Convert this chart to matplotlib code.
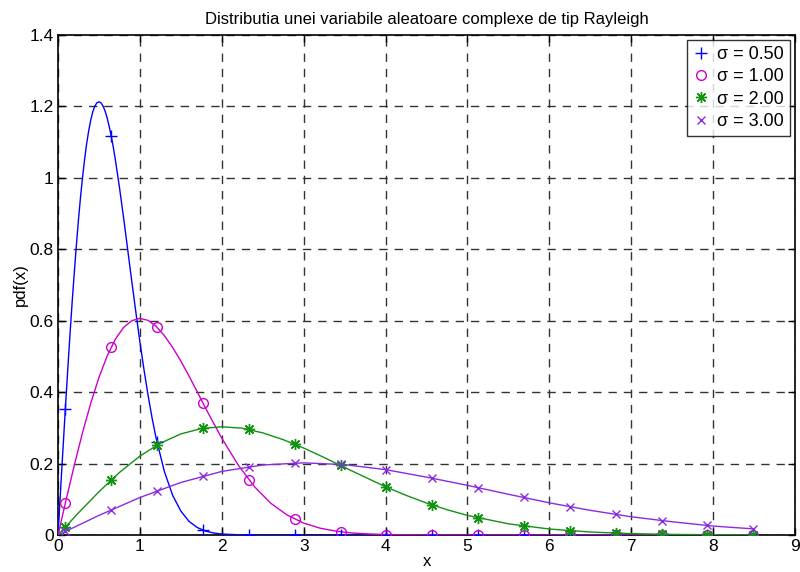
import numpy as np
import matplotlib
matplotlib.use('Agg')
import matplotlib.pyplot as plt

plt.rcParams['font.family'] = ['Liberation Sans', 'DejaVu Sans']

# marker positions (shared by all series)
mark_x = [0.09, 0.65, 1.21, 1.77, 2.33, 2.89, 3.45, 4.01, 4.57, 5.13, 5.69, 6.25, 6.81, 7.37, 7.93, 8.49]

# sigma = 0.50
line_x_05 = [0, 0.025, 0.05, 0.075, 0.1, 0.125, 0.15, 0.175, 0.2, 0.225, 0.25, 0.275, 0.3, 0.325,
             0.35, 0.375, 0.4, 0.425, 0.45, 0.475, 0.5, 0.525, 0.55, 0.575, 0.6, 0.625, 0.65, 0.675,
             0.7, 0.75, 0.8, 0.85, 0.9, 0.95, 1.0, 1.05, 1.1, 1.15, 1.2, 1.3, 1.4, 1.5, 1.6, 1.7,
             1.8, 1.9, 2.0, 2.2, 2.5, 3.0, 8.5]
line_y_05 = [0, 0.100, 0.199, 0.296, 0.392, 0.485, 0.574, 0.659, 0.738, 0.813, 0.883, 0.946,
             1.002, 1.052, 1.096, 1.132, 1.162, 1.185, 1.201, 1.210, 1.213, 1.210, 1.201, 1.187,
             1.168, 1.144, 1.117, 1.086, 1.051, 0.974, 0.890, 0.801, 0.712, 0.625, 0.541, 0.463,
             0.391, 0.326, 0.269, 0.177, 0.111, 0.067, 0.038, 0.021, 0.011, 0.0056, 0.0027,
             0.0006, 0, 0, 0]
mark_y_05 = [0.354, 1.117, 0.259, 0.013, 0, 0, 0, 0, 0, 0, 0, 0, 0, 0, 0, 0]

# sigma = 1.00
line_x_10 = [0, 0.1, 0.2, 0.3, 0.4, 0.5, 0.6, 0.7, 0.8, 0.9, 1.0, 1.1, 1.2, 1.3, 1.4, 1.5, 1.6, 1.7,
             1.8, 1.9, 2.0, 2.2, 2.4, 2.6, 2.8, 3.0, 3.2, 3.4, 3.6, 3.8, 4.0, 4.5, 5.0, 8.5]
line_y_10 = [0, 0.0995, 0.196, 0.287, 0.369, 0.441, 0.501, 0.548, 0.581, 0.600, 0.6065, 0.601, 0.584,
             0.558, 0.525, 0.487, 0.445, 0.401, 0.356, 0.313, 0.271, 0.196, 0.135, 0.0885, 0.0556,
             0.0333, 0.0191, 0.0105, 0.0055, 0.0028, 0.0013, 0.0002, 0, 0]
mark_y_10 = [0.090, 0.526, 0.582, 0.370, 0.155, 0.044, 0.009, 0.001, 0, 0, 0, 0, 0, 0, 0, 0]

# sigma = 2.00
line_x_20 = [0, 0.25, 0.5, 0.75, 1.0, 1.25, 1.5, 1.75, 2.0, 2.25, 2.5, 2.75, 3.0, 3.25, 3.5, 3.75,
             4.0, 4.25, 4.5, 4.75, 5.0, 5.5, 6.0, 6.5, 7.0, 7.5, 8.0, 8.5]
line_y_20 = [0, 0.062, 0.121, 0.175, 0.221, 0.257, 0.283, 0.298, 0.303, 0.299, 0.286, 0.267, 0.2435,
             0.217, 0.189, 0.162, 0.135, 0.111, 0.0895, 0.0708, 0.0549, 0.0313, 0.0167, 0.0083,
             0.0038, 0.0017, 0.0007, 0.0003]
mark_y_20 = [0.0225, 0.154, 0.252, 0.299, 0.2955, 0.254, 0.195, 0.134, 0.084, 0.048, 0.025, 0.012,
             0.005, 0.002, 0.001, 0.0003]

# sigma = 3.00
line_x_30 = [0, 0.5, 1.0, 1.5, 2.0, 2.5, 3.0, 3.5, 4.0, 4.5, 5.0, 5.5, 6.0, 6.5, 7.0, 7.5, 8.0, 8.5]
line_y_30 = [0, 0.0548, 0.105, 0.147, 0.178, 0.196, 0.202, 0.197, 0.183, 0.162, 0.139, 0.114,
             0.090, 0.069, 0.051, 0.037, 0.025, 0.017]
mark_y_30 = [0.010, 0.0705, 0.124, 0.165, 0.1915, 0.202, 0.198, 0.182, 0.159, 0.132, 0.105, 0.079,
             0.0575, 0.040, 0.027, 0.017]

labels = ['\u03c3 = 0.50', '\u03c3 = 1.00', '\u03c3 = 2.00', '\u03c3 = 3.00']
colors = ['#0000FF', '#CC00CC', '#139213', '#8A2BE2']
# MATLAB-like markers: plus, circle, 8-arm asterisk, cross
markers = ['+', 'o', (8, 2, 0), 'x']
msizes = [8, 7, 8, 6]

fig = plt.figure(figsize=(8, 5.72), dpi=100)
ax = fig.add_axes([0.0725, 0.0647, 0.9213, 0.8741])

series = [(line_x_05, line_y_05, mark_y_05),
          (line_x_10, line_y_10, mark_y_10),
          (line_x_20, line_y_20, mark_y_20),
          (line_x_30, line_y_30, mark_y_30)]

for (lx, ly, my), c, m, ms, lab in zip(series, colors, markers, msizes, labels):
    ax.plot(lx, ly, color=c, lw=1.0, zorder=3)
    ax.plot(mark_x, my, linestyle='none', marker=m, color=c, markersize=ms,
            markerfacecolor='none', markeredgewidth=1.0, label=lab, zorder=4)

ax.set_xlim(0, 9)
ax.set_ylim(0, 1.4)
ax.set_xticks(range(0, 10))
ax.set_xticklabels([str(i) for i in range(0, 10)])
ax.set_yticks([0, 0.2, 0.4, 0.6, 0.8, 1.0, 1.2, 1.4])
ax.set_yticklabels(['0', '0.2', '0.4', '0.6', '0.8', '1', '1.2', '1.4'])
ax.tick_params(direction='in', labelsize=12.5, length=5, width=1, top=True, right=True, pad=3)
ax.grid(True, color='#333333', linestyle=(0, (6, 5)), linewidth=1.0)
for s in ax.spines.values():
    s.set_linewidth(1.2)

ax.set_title('Distributia unei variabile aleatoare complexe de tip Rayleigh', fontsize=12, pad=8)
ax.set_xlabel('x', fontsize=12, labelpad=0)
ax.set_ylabel('pdf(x)', fontsize=12, labelpad=1)

leg = ax.legend(loc='upper right', fontsize=13, frameon=True, fancybox=False, edgecolor='black',
                handlelength=1.0, handletextpad=0.4, borderpad=0.3, labelspacing=0.3,
                borderaxespad=0.3)
leg.get_frame().set_linewidth(1.0)

fig.savefig('out.png', dpi=100)
